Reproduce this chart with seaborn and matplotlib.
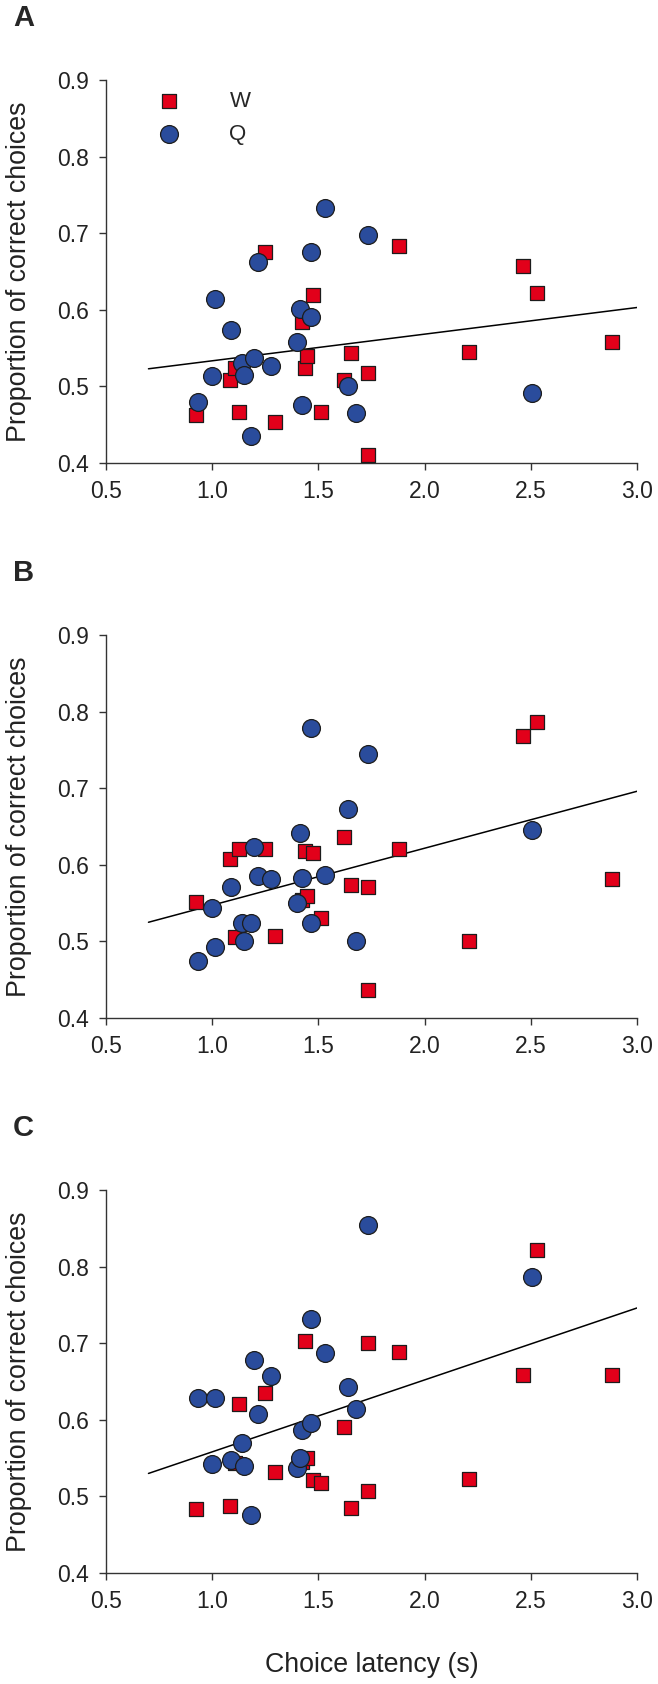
import numpy as np
import pandas as pd
import seaborn as sns
import matplotlib.pyplot as plt

# choice latency (s) per subject, shared by the three panels
w_latency = [0.923, 1.083, 1.106, 1.128, 1.248, 1.296, 1.422, 1.438, 1.448, 1.474,
             1.513, 1.620, 1.655, 1.734, 1.734, 1.880, 2.208, 2.465, 2.530, 2.882]
q_latency = [0.935, 1.000, 1.013, 1.088, 1.140, 1.148, 1.181, 1.195, 1.215, 1.276,
             1.398, 1.412, 1.424, 1.464, 1.464, 1.533, 1.639, 1.675, 1.732, 2.506]

# proportion of correct choices
w_a = [0.463, 0.509, 0.524, 0.467, 0.675, 0.453, 0.584, 0.524, 0.540, 0.619,
       0.466, 0.509, 0.543, 0.518, 0.411, 0.683, 0.545, 0.657, 0.622, 0.558]
q_a = [0.479, 0.514, 0.614, 0.574, 0.531, 0.515, 0.435, 0.537, 0.663, 0.526,
       0.558, 0.601, 0.476, 0.590, 0.676, 0.733, 0.500, 0.465, 0.698, 0.491]

w_b = [0.552, 0.608, 0.506, 0.621, 0.620, 0.507, 0.554, 0.618, 0.559, 0.616,
       0.530, 0.636, 0.574, 0.571, 0.436, 0.621, 0.500, 0.768, 0.786, 0.581]
q_b = [0.475, 0.544, 0.493, 0.571, 0.524, 0.500, 0.524, 0.623, 0.586, 0.581,
       0.550, 0.641, 0.583, 0.524, 0.779, 0.587, 0.673, 0.500, 0.744, 0.646]

w_c = [0.484, 0.487, 0.543, 0.620, 0.635, 0.532, 0.545, 0.703, 0.550, 0.522,
       0.518, 0.590, 0.485, 0.700, 0.507, 0.689, 0.523, 0.658, 0.822, 0.659]
q_c = [0.628, 0.542, 0.628, 0.547, 0.570, 0.540, 0.476, 0.678, 0.608, 0.657,
       0.537, 0.550, 0.587, 0.596, 0.731, 0.687, 0.643, 0.614, 0.854, 0.786]

# regression line ends
fit_x = [0.7, 3.0]
fit_a = [0.523, 0.603]
fit_b = [0.525, 0.696]
fit_c = [0.530, 0.746]

panels = [("A", w_a, q_a, fit_a), ("B", w_b, q_b, fit_b), ("C", w_c, q_c, fit_c)]

red = "#e2001a"
blue = "#2a4c9c"
edge = "#1c1c1c"

sns.set_style("ticks")
plt.rcParams["font.family"] = ["Liberation Sans", "DejaVu Sans"]

fig, axes = plt.subplots(3, 1, figsize=(6.58, 16.84), dpi=100)
fig.subplots_adjust(left=0.1611, right=0.9681, top=0.9525, bottom=0.0659, hspace=0.449)

for ax, (letter, w_vals, q_vals, fit_y) in zip(axes, panels):
    w_df = pd.DataFrame({"latency": w_latency, "prop": w_vals})
    q_df = pd.DataFrame({"latency": q_latency, "prop": q_vals})

    sns.lineplot(x=fit_x, y=fit_y, color="black", linewidth=1.1, ax=ax, zorder=2)
    sns.scatterplot(data=w_df, x="latency", y="prop", marker="s", s=105, color=red,
                    edgecolor=edge, linewidth=0.9, ax=ax, zorder=3, label="W")
    sns.scatterplot(data=q_df, x="latency", y="prop", marker="o", s=165, color=blue,
                    edgecolor=edge, linewidth=0.9, ax=ax, zorder=4, label="Q")

    ax.set_xlim(0.5, 3.0)
    ax.set_ylim(0.4, 0.9)
    ax.set_xticks(np.arange(0.5, 3.01, 0.5))
    ax.set_yticks(np.arange(0.4, 0.91, 0.1))
    ax.set_xticklabels([f"{v:.1f}" for v in np.arange(0.5, 3.01, 0.5)])
    ax.set_yticklabels([f"{v:.1f}" for v in np.arange(0.4, 0.91, 0.1)])
    sns.despine(ax=ax)
    for side in ["left", "bottom"]:
        ax.spines[side].set_linewidth(1.0)
        ax.spines[side].set_color("#333333")
    ax.tick_params(direction="out", length=5, width=1.0, pad=7, labelsize=16.5,
                   color="#333333", labelcolor="#222222")

    ax.set_ylabel("Proportion of correct choices", fontsize=19.3, color="#222222")
    ax.yaxis.set_label_coords(-0.139, 0.5)
    ax.set_xlabel("")
    ax.text(-0.175, 1.162, letter, transform=ax.transAxes, fontsize=21,
            fontweight="bold", ha="left", va="center")

    if letter == "A":
        ax.legend(loc="upper left", bbox_to_anchor=(0.0776, 0.972), frameon=False,
                  fontsize=16, handletextpad=1.7, labelspacing=0.55,
                  borderpad=0, borderaxespad=0)
    else:
        leg = ax.get_legend()
        if leg is not None:
            leg.remove()

axes[2].set_xlabel("Choice latency (s)", fontsize=19.3, color="#222222")
axes[2].xaxis.set_label_coords(0.5, -0.205)

fig.savefig("out.png", dpi=100)
